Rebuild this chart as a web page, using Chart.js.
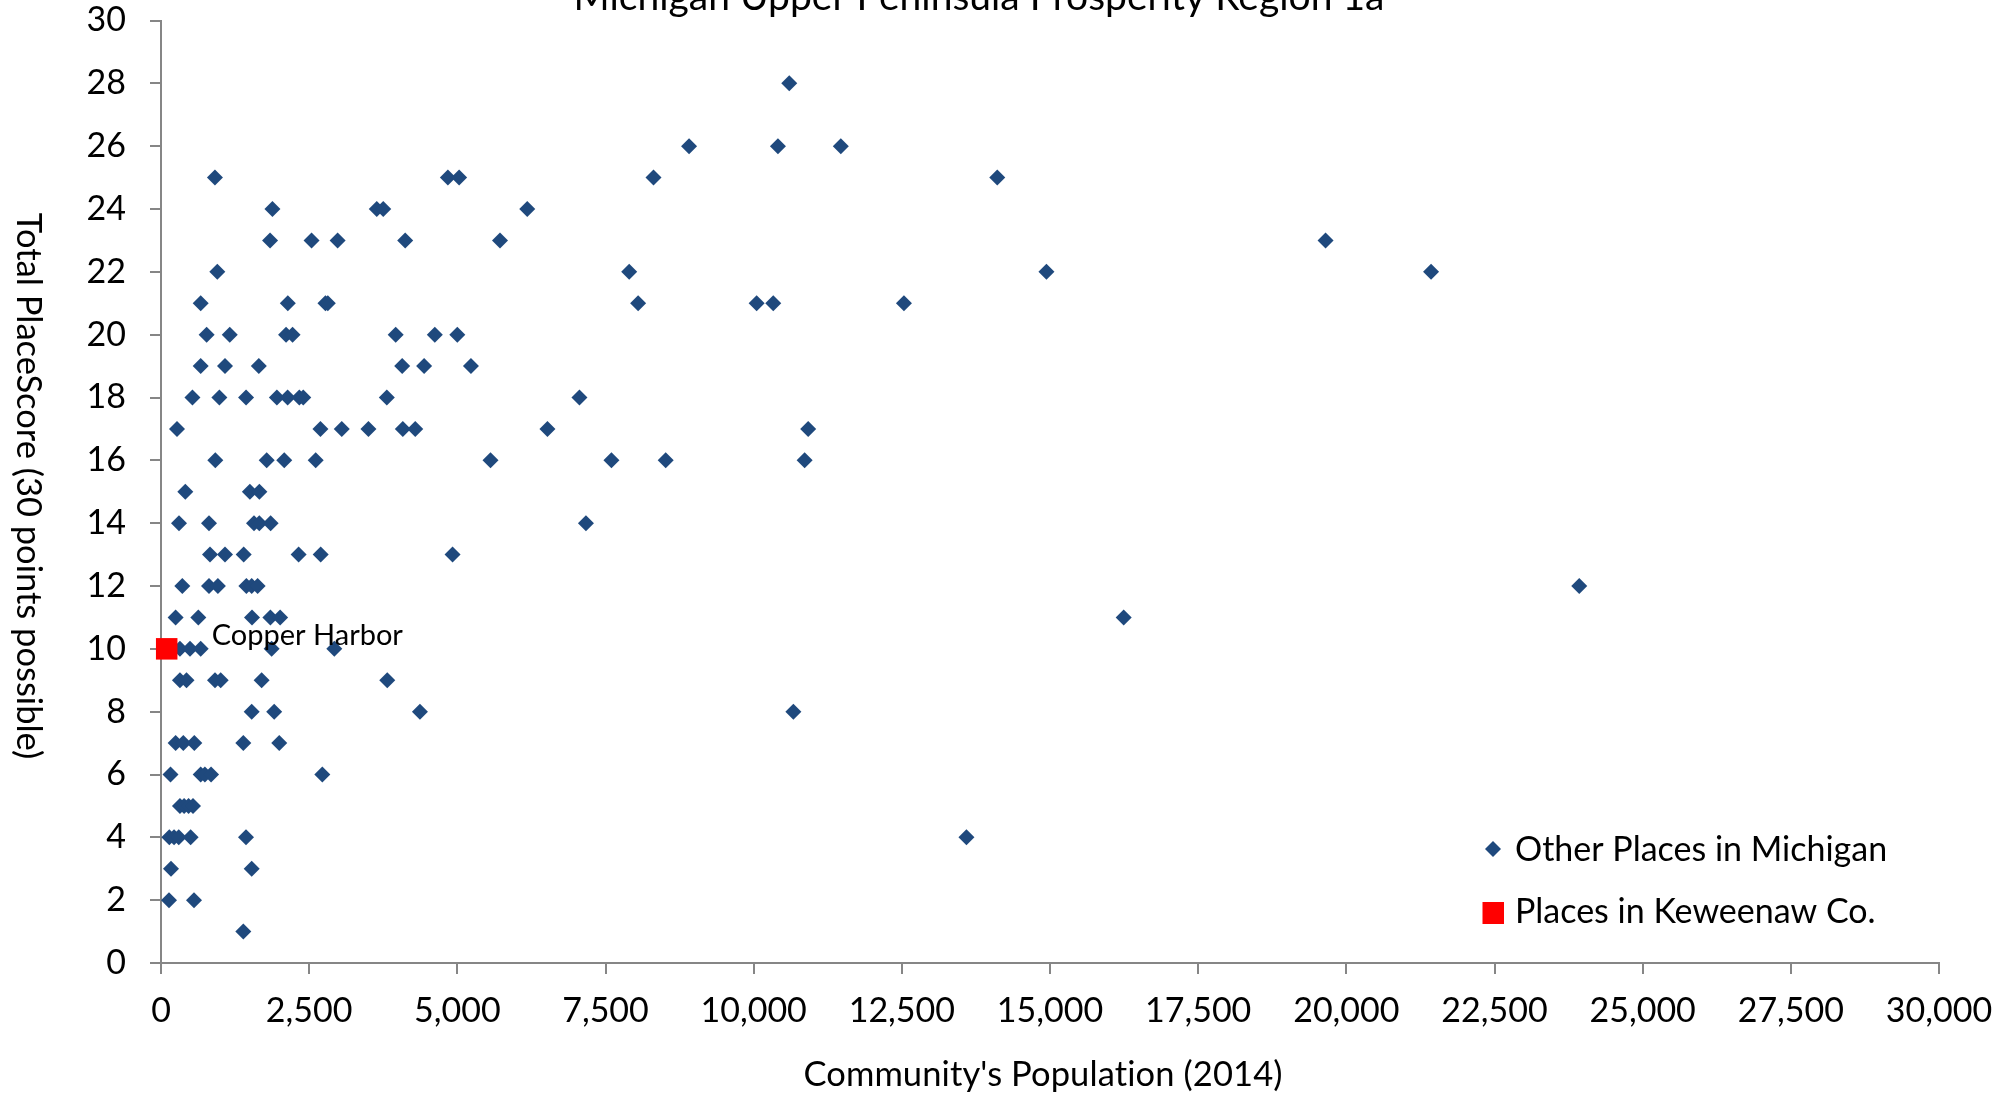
<!DOCTYPE html>
<html>
<head>
<meta charset="utf-8">
<title>Michigan Upper Peninsula Prosperity Region 1a</title>
<script src="https://cdn.jsdelivr.net/npm/chart.js@4.4.1/dist/chart.umd.min.js"></script>
<style>
  html, body { margin: 0; padding: 0; background: #fff; }
  #wrap { width: 2007px; height: 1093px; }
</style>
</head>
<body>
<div id="wrap"><canvas id="main_chart_canvas" width="2007" height="1093"></canvas></div>
<script>
// Other places in Michigan: population (2014) and total PlaceScore
const otherPopulation = [
  10600,
  8910, 10410, 11470,
  910, 4840, 5030, 8310, 14110,
  1880, 3640, 3750, 6180,
  1840, 2540, 2980, 4120, 5720, 19650,
  950, 7900, 14940, 21430,
  670, 2140, 2775, 2815, 8050, 10050, 10330, 12535,
  770, 1160, 2110, 2220, 3960, 4620, 5000,
  670, 1080, 1650, 4070, 4440, 5230,
  530, 985, 1435, 1955, 2137, 2334, 2400, 3810, 7060,
  270, 2690, 3050, 3500, 4080, 4290, 6520, 10920,
  916, 1783, 2080, 2610, 5560, 7600, 8516, 10860,
  410, 1500, 1660,
  304, 810, 1569, 1659, 1850, 7170,
  827, 1080, 1395, 2322, 2694, 4920,
  360, 810, 960, 1440, 1530, 1630, 23930,
  247, 630, 1535, 1845, 2010, 16243,
  320, 489, 670, 1867, 2924,
  320, 430, 911, 1007, 1698, 3818,
  1530, 1910, 4369, 10670,
  247, 377, 562, 1389, 1995,
  160, 670, 740, 845, 2722,
  320, 390, 465, 540,
  140, 220, 300, 500, 1434, 13590,
  169, 1530,
  135, 557,
  1389
];
const otherScore = [
  28,
  26, 26, 26,
  25, 25, 25, 25, 25,
  24, 24, 24, 24,
  23, 23, 23, 23, 23, 23,
  22, 22, 22, 22,
  21, 21, 21, 21, 21, 21, 21, 21,
  20, 20, 20, 20, 20, 20, 20,
  19, 19, 19, 19, 19, 19,
  18, 18, 18, 18, 18, 18, 18, 18, 18,
  17, 17, 17, 17, 17, 17, 17, 17,
  16, 16, 16, 16, 16, 16, 16, 16,
  15, 15, 15,
  14, 14, 14, 14, 14, 14,
  13, 13, 13, 13, 13, 13,
  12, 12, 12, 12, 12, 12, 12,
  11, 11, 11, 11, 11, 11,
  10, 10, 10, 10, 10,
  9, 9, 9, 9, 9, 9,
  8, 8, 8, 8,
  7, 7, 7, 7, 7,
  6, 6, 6, 6, 6,
  5, 5, 5, 5,
  4, 4, 4, 4, 4, 4,
  3, 3,
  2, 2,
  1
];

// Places in Keweenaw Co.
const keweenawNames = ['Copper Harbor'];
const keweenawPopulation = [96];
const keweenawScore = [10];

const chartTitle = 'Michigan Upper Peninsula Prosperity Region 1a';
const xTitle = "Community's Population (2014)";
const yTitle = 'Total PlaceScore (30 points possible)';
const seriesLabels = ['Other Places in Michigan', 'Places in Keweenaw Co.'];

const BLUE = '#1F497D';
const RED = '#FF0000';
const AXIS = '#868686';
const FONT = 'Lato';

const toPoints = (xs, ys) => xs.map((x, i) => ({ x, y: ys[i] }));

// white background, title cut off at the top, axis titles, point label and legend
const decorations = {
  id: 'decorations',
  beforeDraw(chart) {
    const ctx = chart.ctx;
    ctx.save();
    ctx.fillStyle = '#fff';
    ctx.fillRect(0, 0, chart.width, chart.height);
    ctx.restore();
  },
  afterDraw(chart) {
    const ctx = chart.ctx;
    const xs = chart.scales.x, ys = chart.scales.y;
    ctx.save();
    ctx.fillStyle = '#000';

    // chart title (only the lower part shows in the original)
    ctx.font = `39px ${FONT}`;
    ctx.textAlign = 'center';
    ctx.textBaseline = 'alphabetic';
    ctx.fillText(chartTitle, 979, 10);

    // y axis title, reading top to bottom
    ctx.save();
    ctx.translate(28, 486);
    ctx.rotate(Math.PI / 2);
    ctx.font = `34.5px ${FONT}`;
    ctx.textBaseline = 'middle';
    ctx.fillText(yTitle, 0, 0);
    ctx.restore();

    // x axis title (small letter spacing keeps Lato from joining "ti")
    ctx.save();
    ctx.font = `34.5px ${FONT}`;
    ctx.textBaseline = 'alphabetic';
    if ('letterSpacing' in ctx) ctx.letterSpacing = '0.1px';
    ctx.fillText(xTitle, 1043, 1086);
    ctx.restore();

    // data label for the Keweenaw place
    ctx.font = `29px ${FONT}`;
    ctx.textAlign = 'left';
    ctx.textBaseline = 'alphabetic';
    keweenawNames.forEach((name, i) => {
      const px = xs.getPixelForValue(keweenawPopulation[i]);
      const py = ys.getPixelForValue(keweenawScore[i]);
      ctx.fillText(name, px + 45, py - 4);
    });

    // legend
    const lx = 1493;
    ctx.fillStyle = BLUE;
    ctx.beginPath();
    ctx.moveTo(lx - 8, 849);
    ctx.lineTo(lx, 841);
    ctx.lineTo(lx + 8, 849);
    ctx.lineTo(lx, 857);
    ctx.closePath();
    ctx.fill();
    ctx.fillStyle = RED;
    ctx.fillRect(lx - 10.5, 902, 21.5, 22);
    ctx.fillStyle = '#000';
    ctx.font = `34px ${FONT}`;
    ctx.fillText(seriesLabels[0], 1515, 861);
    ctx.fillText(seriesLabels[1], 1515, 923);
    ctx.restore();
  }
};

const ctx = document.getElementById('main_chart_canvas').getContext('2d');
const main_chart = new Chart(ctx, {
  type: 'scatter',
  data: {
    datasets: [
      {
        label: seriesLabels[0],
        data: toPoints(otherPopulation, otherScore),
        pointStyle: 'rectRot',
        pointRadius: 8,
        backgroundColor: BLUE,
        borderWidth: 0,
        clip: false,
        order: 1
      },
      {
        label: seriesLabels[1],
        data: toPoints(keweenawPopulation, keweenawScore),
        pointStyle: 'rect',
        pointRadius: 15.2,
        backgroundColor: RED,
        borderWidth: 0,
        clip: false,
        order: 0
      }
    ]
  },
  options: {
    responsive: false,
    animation: false,
    devicePixelRatio: 1,
    events: [],
    layout: { padding: { top: 20.5, right: 68, left: 0, bottom: 0 } },
    scales: {
      x: {
        type: 'linear',
        min: 0,
        max: 30000,
        afterFit: scale => {
          scale.height = 130;
          scale.paddingLeft = 0;
          scale.paddingRight = 0;
        },
        ticks: {
          stepSize: 2500,
          padding: 17,
          color: '#000',
          font: { family: FONT, size: 34 },
          callback: value => value.toLocaleString('en-US')
        },
        grid: { drawOnChartArea: false, drawTicks: true, tickLength: 11, color: AXIS, lineWidth: 2 },
        border: { color: AXIS, width: 2 }
      },
      y: {
        type: 'linear',
        min: 0,
        max: 30,
        afterFit: scale => {
          scale.width = 161;
          scale.paddingTop = 0;
          scale.paddingBottom = 0;
        },
        ticks: {
          stepSize: 2,
          padding: 24,
          color: '#000',
          font: { family: FONT, size: 34, lineHeight: 1 }
        },
        grid: { drawOnChartArea: false, drawTicks: true, tickLength: 11, color: AXIS, lineWidth: 2 },
        border: { color: AXIS, width: 2 }
      }
    },
    plugins: {
      legend: { display: false },
      tooltip: { enabled: false },
      title: { display: false }
    }
  },
  plugins: [decorations]
});
</script>
</body>
</html>
